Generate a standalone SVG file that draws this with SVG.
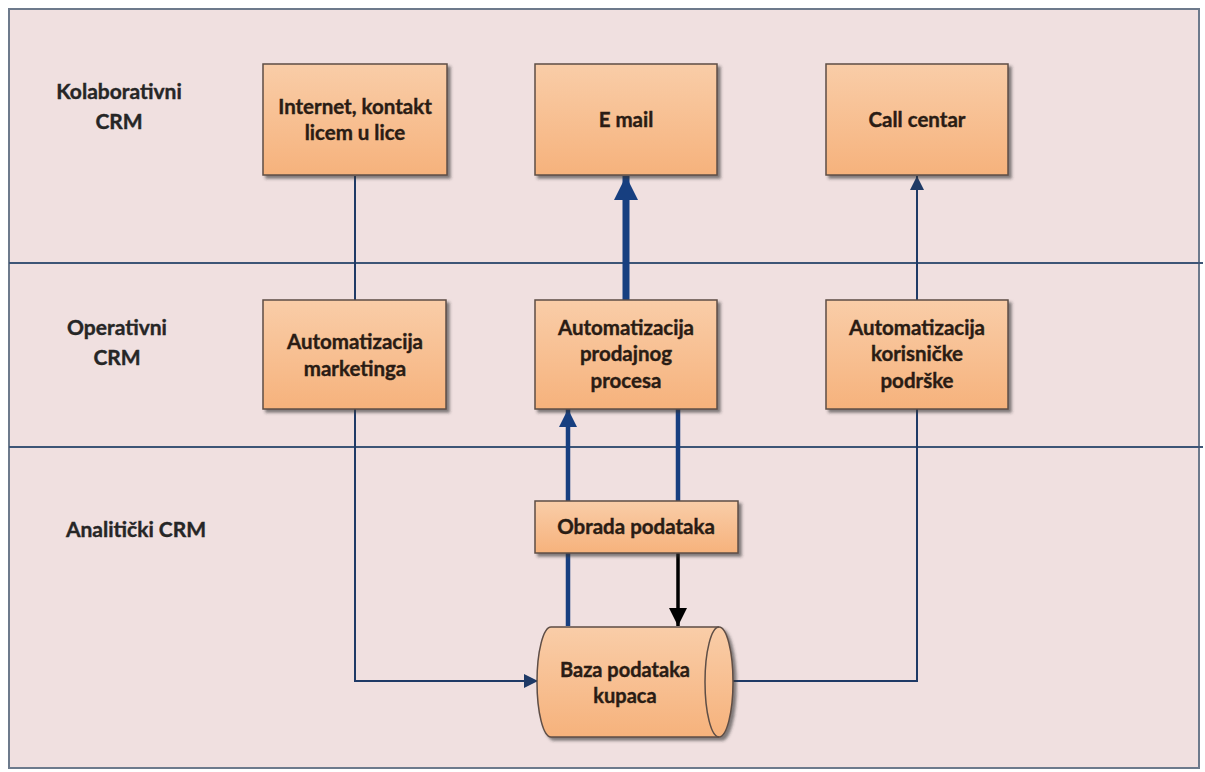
<svg xmlns="http://www.w3.org/2000/svg" width="1205" height="772" viewBox="0 0 1205 772">
<defs>
<linearGradient id="g" x1="0" y1="0" x2="0" y2="1">
<stop offset="0" stop-color="#f9cda8"/>
<stop offset="1" stop-color="#f6b27c"/>
</linearGradient>
<filter id="sh" x="-10%" y="-10%" width="125%" height="130%">
<feDropShadow dx="3" dy="3" stdDeviation="1.5" flood-color="#333" flood-opacity="0.6"/>
</filter>
<marker id="aThin2" viewBox="0 0 10 10" refX="10" refY="5" markerWidth="14" markerHeight="14" markerUnits="userSpaceOnUse" orient="auto">
<path d="M0,0 L10,5 L0,10 Z" fill="#1f3a66"/>
</marker>
<marker id="aBlue" viewBox="0 0 10 10" refX="10" refY="5" markerWidth="20" markerHeight="18" markerUnits="userSpaceOnUse" orient="auto">
<path d="M0,0 L10,5 L0,10 Z" fill="#173f80"/>
</marker>
<marker id="aThick" viewBox="0 0 10 10" refX="10" refY="5" markerWidth="27" markerHeight="24" markerUnits="userSpaceOnUse" orient="auto">
<path d="M0,0 L10,5 L0,10 Z" fill="#173f80"/>
</marker>
<marker id="aBlack" viewBox="0 0 10 10" refX="10" refY="5" markerWidth="24" markerHeight="18" markerUnits="userSpaceOnUse" orient="auto">
<path d="M0,0 L10,5 L0,10 Z" fill="#000"/>
</marker>
</defs>
<style>
.lane{fill:#f0e0e0}
.div{stroke:#3d5576;stroke-width:2;fill:none}
.box{fill:url(#g);stroke:#5e4e46;stroke-width:1.5;filter:url(#sh)}
.t{font-family:Lato,"Open Sans","Liberation Sans",sans-serif;font-weight:bold;font-size:20.5px;fill:#2a1c14;stroke:#2a1c14;stroke-width:0.4;text-anchor:middle}
.lbl{font-family:Lato,"Open Sans","Liberation Sans",sans-serif;font-weight:bold;font-size:21px;fill:#262626;stroke:#262626;stroke-width:0.4;text-anchor:middle}
.thin{stroke:#1f3a66;stroke-width:2;fill:none}
.blue{stroke:#173f80;stroke-width:4.5;fill:none}
.thick{stroke:#173f80;stroke-width:7;fill:none}
.black{stroke:#000;stroke-width:3.5;fill:none}
</style>
<rect x="0" y="0" width="1205" height="772" fill="#ffffff"/>
<rect class="lane" x="9" y="9" width="1190" height="759"/>
<g id="frame">
<rect x="9" y="9" width="1190" height="759" fill="none" stroke="#6d7a8c" stroke-width="2"/>
<line class="div" x1="9" y1="263" x2="1203" y2="263"/>
<line class="div" x1="9" y1="447" x2="1203" y2="447"/>
</g>
<g id="lane-labels">
<text class="lbl" x="119" y="99">Kolaborativni</text>
<text class="lbl" x="119" y="129">CRM</text>
<text class="lbl" x="117" y="335">Operativni</text>
<text class="lbl" x="117" y="365">CRM</text>
<text class="lbl" x="136" y="537">Analitički CRM</text>
</g>
<g id="connectors">
<line class="thin" x1="355" y1="176" x2="355" y2="300"/>
<line class="thick" x1="626" y1="300" x2="626" y2="176" marker-end="url(#aThick)"/>
<line class="thin" x1="917" y1="300" x2="917" y2="176" marker-end="url(#aThin2)"/>
<path class="thin" d="M355,409 L355,681 L538,681" marker-end="url(#aThin2)"/>
<path class="thin" d="M733,681 L917,681 L917,409"/>
<line class="blue" x1="568" y1="626" x2="568" y2="553"/>
<line class="blue" x1="568" y1="501" x2="568" y2="409" marker-end="url(#aBlue)"/>
<line class="blue" x1="678" y1="409" x2="678" y2="501"/>
<line class="black" x1="678" y1="553" x2="678" y2="626" marker-end="url(#aBlack)"/>
</g>
<g id="n-internet">
<rect class="box" x="263" y="64" width="184" height="111"/>
<text class="t" x="355" y="114">Internet, kontakt</text>
<text class="t" x="355" y="140">licem u lice</text>
</g>
<g id="n-email">
<rect class="box" x="535" y="64" width="182" height="111"/>
<text class="t" x="626" y="127">E mail</text>
</g>
<g id="n-call">
<rect class="box" x="826" y="64" width="182" height="111"/>
<text class="t" x="917" y="127">Call centar</text>
</g>
<g id="n-marketing">
<rect class="box" x="263" y="300" width="183" height="109"/>
<text class="t" x="355" y="349">Automatizacija</text>
<text class="t" x="355" y="376">marketinga</text>
</g>
<g id="n-prodaja">
<rect class="box" x="535" y="300" width="182" height="109"/>
<text class="t" x="626" y="335">Automatizacija</text>
<text class="t" x="626" y="361">prodajnog</text>
<text class="t" x="626" y="388">procesa</text>
</g>
<g id="n-podrska">
<rect class="box" x="826" y="300" width="182" height="109"/>
<text class="t" x="917" y="335">Automatizacija</text>
<text class="t" x="917" y="361">korisničke</text>
<text class="t" x="917" y="388">podrške</text>
</g>
<g id="n-obrada">
<rect class="box" x="535" y="501" width="203" height="52"/>
<text class="t" x="636" y="534">Obrada podataka</text>
</g>
<g id="n-baza">
<path class="box" d="M551,627 L719,627 A14,55 0 0 1 719,737 L551,737 A14,55 0 0 1 551,627 Z"/>
<path d="M719,627 A14,55 0 0 0 719,737" fill="none" stroke="#5e4e46" stroke-width="1.5"/>
<text class="t" x="625" y="677" style="font-size:20px">Baza podataka</text>
<text class="t" x="625" y="703" style="font-size:20px">kupaca</text>
</g>
</svg>
